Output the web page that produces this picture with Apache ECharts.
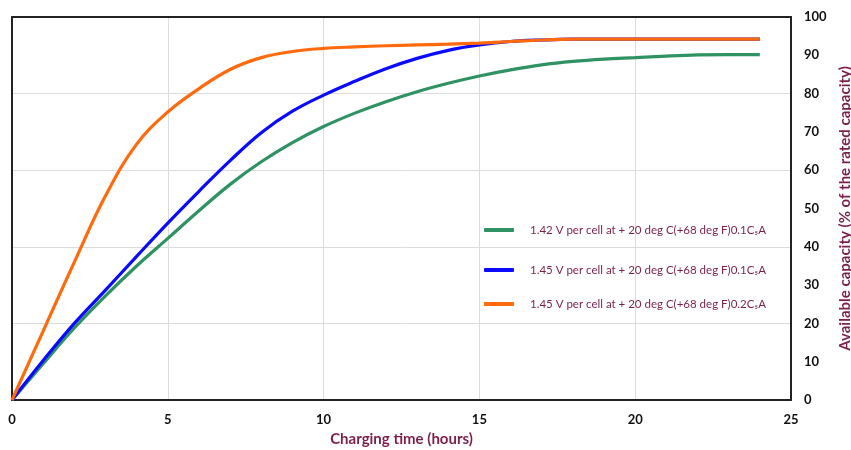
<!DOCTYPE html>
<html>
<head>
<meta charset="utf-8">
<script src="https://cdn.jsdelivr.net/npm/echarts@6/dist/echarts.min.js"></script>
<style>html,body{margin:0;padding:0;background:#fff}#c{width:851px;height:450px}</style>
</head>
<body>
<div id="c"></div>
<script>
const hours = [0,1,2,3,4,5,6,7,8,9,10,11,12,13,14,15,16,17,18,19,20,21,22,23,24];
const green142 = [0,9.5,18.8,27.2,35,42.2,49.4,56.3,62.2,67.2,71.4,74.9,77.9,80.5,82.7,84.6,86.2,87.5,88.4,89,89.4,89.8,90.1,90.2,90.2];
const blue145 = [0,10.3,20,28.7,37.5,46.2,54.5,62.5,69.8,75.4,79.6,83.2,86.5,89.2,91.3,92.7,93.6,94,94.2,94.2,94.2,94.2,94.2,94.2,94.2];
const orange145 = [0,18,36,53.3,66.8,75.2,81.3,86.3,89.4,91,91.8,92.2,92.5,92.7,92.9,93.2,93.6,94,94.2,94.2,94.2,94.2,94.2,94.2,94.2];
const seriesNames = [
  '1.42 V per cell at + 20 deg C(+68 deg F)0.1C\u2085A',
  '1.45 V per cell at + 20 deg C(+68 deg F)0.1C\u2085A',
  '1.45 V per cell at + 20 deg C(+68 deg F)0.2C\u2085A'
];
const xTitle = 'Charging time (hours)';
const yTitle = 'Available capacity (% of the rated capacity)';
const colors = ['#2f9263','#0a0aff','#ff6a0d'];
const maroon = '#7d1f4c';
const font = 'Lato';
const yMax = 100;
const xMax = 25;

function pairs(vals){ return hours.map((h,i)=>[h, vals[i]]); }

const chart = echarts.init(document.getElementById('c'), null, {renderer:'canvas'});
const legendTop = [219, 259, 293];
const legends = seriesNames.map((n,i)=>({
  data:[n], left:479, top:legendTop[i], orient:'vertical',
  icon:'roundRect', itemWidth:30, itemHeight:4, itemGap:0,
  textStyle:{color:maroon, fontFamily:font, fontSize:11.5, padding:[0,0,0,11]},
  selectedMode:false
}));
function frameLine(){ return {show:true,onZero:false,lineStyle:{color:'#222',width:2}}; }
const series = [green142, blue145, orange145].map((v,i)=>({
  name:seriesNames[i], type:'line', data:pairs(v), smooth:0.4,
  showSymbol:false, symbol:'none', yAxisIndex:0, xAxisIndex:0,
  lineStyle:{color:colors[i],width:3.2}, itemStyle:{color:colors[i]}, z:2+i
}));
chart.setOption({
  animation:false,
  backgroundColor:'#fff',
  grid:{left:12,right:60,top:17,bottom:50,containLabel:false,outerBoundsMode:'none'},
  legend:legends,
  xAxis:[{
    type:'value', min:0, max:xMax, interval:5,
    name:xTitle, nameLocation:'middle', nameGap:32,
    nameTextStyle:{color:maroon,fontFamily:font,fontWeight:'bold',fontSize:15},
    axisLine:frameLine(),
    axisTick:{show:false},
    axisLabel:{color:'#111',fontFamily:font,fontWeight:'bold',fontSize:13,margin:13},
    splitLine:{show:true,lineStyle:{color:'#dcdcdc',width:1}}
  },{
    type:'value', min:0, max:xMax, position:'top', offset:0,
    axisLine:frameLine(),
    axisTick:{show:false}, axisLabel:{show:false}, splitLine:{show:false}
  }],
  yAxis:[{
    type:'value', min:0, max:yMax, interval:10, position:'right',
    name:yTitle, nameLocation:'middle', nameRotate:90, nameGap:46,
    nameTextStyle:{color:maroon,fontFamily:font,fontWeight:'bold',fontSize:15},
    axisLine:frameLine(),
    axisTick:{show:false},
    axisLabel:{color:'#111',fontFamily:font,fontWeight:'bold',fontSize:13,margin:13},
    splitLine:{show:false}
  },{
    type:'value', min:0, max:yMax, interval:20, position:'left',
    axisLine:frameLine(), axisTick:{show:false}, axisLabel:{show:false},
    splitLine:{show:true,lineStyle:{color:'#dcdcdc',width:1}}
  }],
  series:series
});
</script>
</body>
</html>
